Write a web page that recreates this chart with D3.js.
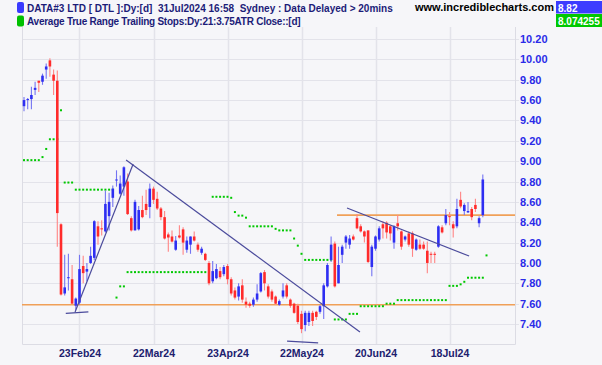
<!DOCTYPE html>
<html>
<head>
<meta charset="utf-8">
<script src="https://cdn.jsdelivr.net/npm/d3@7"></script>
<style>
  body { margin: 0; background: #f6f6f9; }
  svg { display: block; font-family: "Liberation Sans", Arial, sans-serif; }
</style>
</head>
<body>
<svg id="chart" width="602" height="365"></svg>
<script>
// --- daily bars, 2 Feb 2024 .. 31 Jul 2024 (one entry per trading day) ---
const opens = [
  9.54, 9.60, 9.61, 9.70, 9.79, 9.78, 9.90, 9.99, 9.85, 9.79,
  8.38, 7.70, 7.85, 7.84, 7.58, 7.61, 7.97, 7.915, 8.00, 8.05,
  8.36, 8.34, 8.31, 8.46, 8.64, 8.81, 8.68, 8.75, 8.80, 8.44,
  8.32, 8.33, 8.52, 8.58, 8.55, 8.73, 8.63, 8.535, 8.45, 8.28,
  8.26, 8.13, 8.27, 8.33, 8.13, 8.18, 8.26, 8.18, 8.10, 8.09,
  8.00, 7.82, 7.85, 7.92, 7.89, 7.97, 7.84, 7.73, 7.67, 7.78,
  7.62, 7.60, 7.59, 7.64, 7.72, 7.91, 7.77, 7.72, 7.67, 7.59,
  7.67, 7.78, 7.64, 7.60, 7.58, 7.50, 7.39, 7.42, 7.51, 7.52,
  7.52, 7.575, 7.77, 8.03, 8.19, 7.80, 8.08, 8.20, 8.18, 8.26,
  8.44, 8.36, 8.31, 8.32, 7.96, 8.14, 8.23, 8.38, 8.395, 8.36,
  8.20, 8.39, 8.31, 8.23, 8.29, 8.29, 8.13, 8.18, 8.18, 8.12,
  8.09, 8.09, 8.16, 8.35, 8.39, 8.46, 8.38, 8.36, 8.62, 8.51,
  8.497, 8.53, 8.57, 8.39, 8.47
];
const highs = [
  9.63, 9.62, 9.73, 9.78, 9.79, 9.86, 9.96, 10.01, 9.90, 9.89,
  8.39, 8.08, 8.09, 7.98, 7.66, 8.08, 8.07, 8.00, 8.16, 8.42,
  8.41, 8.42, 8.71, 8.69, 8.76, 8.91, 8.86, 8.95, 8.88, 8.46,
  8.62, 8.56, 8.66, 8.72, 8.78, 8.75, 8.70, 8.55, 8.51, 8.30,
  8.32, 8.265, 8.37, 8.35, 8.26, 8.26, 8.31, 8.20, 8.16, 8.10,
  8.02, 8.02, 7.99, 7.96, 7.98, 7.99, 7.86, 7.76, 7.80, 7.84,
  7.66, 7.62, 7.66, 7.79, 7.91, 7.93, 7.79, 7.74, 7.68, 7.64,
  7.80, 7.80, 7.65, 7.61, 7.60, 7.53, 7.53, 7.53, 7.53, 7.53,
  7.59, 7.80, 8.00, 8.26, 8.21, 8.16, 8.18, 8.275, 8.275, 8.28,
  8.48, 8.38, 8.32, 8.32, 8.18, 8.27, 8.36, 8.41, 8.41, 8.37,
  8.37, 8.47, 8.32, 8.27, 8.31, 8.31, 8.24, 8.23, 8.21, 8.21,
  8.11, 8.11, 8.37, 8.37, 8.53, 8.50, 8.41, 8.63, 8.70, 8.586,
  8.60, 8.55, 8.63, 8.46, 8.87
];
const lows = [
  9.49, 9.51, 9.51, 9.65, 9.68, 9.75, 9.81, 9.83, 9.65, 8.16,
  7.68, 7.68, 7.73, 7.60, 7.54, 7.59, 7.80, 7.82, 7.99, 8.03,
  8.18, 8.27, 8.30, 8.32, 8.55, 8.75, 8.67, 8.66, 8.47, 8.31,
  8.32, 8.32, 8.44, 8.47, 8.44, 8.58, 8.52, 8.42, 8.23, 8.11,
  8.20, 8.12, 8.24, 8.08, 8.10, 8.09, 8.21, 8.11, 8.08, 8.02,
  7.78, 7.80, 7.84, 7.84, 7.87, 7.79, 7.68, 7.64, 7.63, 7.61,
  7.56, 7.56, 7.57, 7.62, 7.71, 7.73, 7.65, 7.62, 7.59, 7.58,
  7.65, 7.65, 7.56, 7.50, 7.40, 7.31, 7.33, 7.38, 7.38, 7.44,
  7.50, 7.45, 7.76, 8.01, 7.76, 7.80, 8.00, 8.14, 8.14, 8.22,
  8.33, 8.30, 8.20, 8.00, 7.87, 8.12, 8.21, 8.24, 8.24, 8.22,
  8.14, 8.32, 8.13, 8.21, 8.16, 8.06, 8.12, 8.13, 8.13, 7.90,
  8.00, 8.00, 8.15, 8.29, 8.37, 8.37, 8.25, 8.34, 8.537, 8.47,
  8.49, 8.42, 8.50, 8.35, 8.45
];
const closes = [
  9.60, 9.61, 9.65, 9.72, 9.77, 9.84, 9.93, 9.93, 9.79, 8.49,
  7.69, 7.76, 7.86, 7.60, 7.65, 7.94, 7.90, 7.94, 8.07, 8.41,
  8.26, 8.33, 8.58, 8.60, 8.73, 8.82, 8.78, 8.94, 8.48, 8.32,
  8.60, 8.52, 8.45, 8.52, 8.73, 8.62, 8.535, 8.45, 8.24, 8.25,
  8.21, 8.22, 8.25, 8.20, 8.22, 8.26, 8.22, 8.13, 8.14, 8.03,
  7.80, 7.92, 7.94, 7.86, 7.96, 7.84, 7.70, 7.66, 7.77, 7.64,
  7.59, 7.58, 7.64, 7.70, 7.90, 7.80, 7.67, 7.64, 7.60, 7.625,
  7.73, 7.67, 7.58, 7.51, 7.42, 7.35, 7.51, 7.51, 7.43, 7.47,
  7.575, 7.78, 7.98, 8.18, 7.77, 7.98, 8.16, 8.26, 8.24, 8.23,
  8.34, 8.31, 8.26, 8.01, 8.16, 8.26, 8.34, 8.34, 8.30, 8.29,
  8.36, 8.36, 8.16, 8.26, 8.18, 8.14, 8.23, 8.14, 8.14, 8.00,
  8.08, 8.08, 8.36, 8.30, 8.47, 8.45, 8.34, 8.53, 8.555, 8.57,
  8.51, 8.45, 8.53, 8.44, 8.82
];

// ATR trailing stop, one value per bar plus the projected next bar
const stops = [
  9.01, 9.01, 9.01, 9.01, 9.01, 9.04, 9.12, 9.215, 9.215, 9.215,
  9.50, 8.79, 8.79, 8.79, 8.72, 8.72, 8.72, 8.72, 8.72, 8.72,
  8.72, 8.72, 8.72, 8.72, 8.72, 7.66, 7.77, 7.77, 7.91, 7.91,
  7.91, 7.91, 7.91, 7.91, 7.91, 7.91, 7.91, 7.91, 7.91, 7.91,
  7.91, 7.91, 7.91, 7.91, 7.91, 7.91, 7.91, 7.91, 7.91, 7.91,
  7.91, 8.65, 8.65, 8.65, 8.65, 8.65, 8.64, 8.50, 8.465, 8.465,
  8.445, 8.36, 8.36, 8.36, 8.36, 8.36, 8.36, 8.36, 8.335, 8.32,
  8.32, 8.32, 8.32, 8.24, 8.17, 8.09, 8.03, 8.03, 8.03, 8.03,
  8.03, 8.03, 8.03, 8.03, 7.445, 7.445, 7.445, 7.445, 7.50, 7.50,
  7.50, 7.575, 7.575, 7.575, 7.575, 7.575, 7.575, 7.575, 7.60, 7.60,
  7.60, 7.635, 7.635, 7.635, 7.635, 7.635, 7.635, 7.635, 7.635, 7.635,
  7.635, 7.635, 7.635, 7.635, 7.635, 7.775, 7.775, 7.775, 7.79, 7.815,
  7.855, 7.855, 7.855, 7.855, 7.855, 8.074255
];

// date axis: label text and the bar it sits on
const dateLabels = ["23Feb24", "22Mar24", "23Apr24", "22May24", "20Jun24", "18Jul24"];
const dateBars = [15, 35, 55, 75, 95, 115];

// price axis ticks
const priceTicks = [7.40, 7.60, 7.80, 8.00, 8.20, 8.40, 8.60, 8.80, 9.00, 9.20, 9.40, 9.60, 9.80, 10.00, 10.20];

// drawn annotations: [bar, price] end points
const trendLines = [
  [[13.8, 7.518], [29.5, 8.972]],
  [[27.6, 9.011], [90.8, 7.322]],
  [[87.3, 8.540], [120.3, 8.068]],
  [[11.3, 7.505], [17.4, 7.520]],
  [[71.1, 7.233], [79.5, 7.214]]
];
const levelLines = [
  { price: 7.59, from: -0.54 },
  { price: 8.47, from: 84.6 }
];

const title1 = "DATA#3 LTD [ DTL ]:Dy:[d]  31Jul2024 16:58  Sydney : Data Delayed > 20mins";
const title2 = "Average True Range Trailing Stops:Dy:21:3.75ATR Close::[d]";

// --- layout ---
const plot = { left: 22, right: 515, top: 27, bottom: 344 };
const upColor = "#2e2ef2", upWick = "#7474f2";
const downColor = "#ff2b2b", downWick = "#ff8585";

const svg = d3.select("#chart");

const x = d3.scaleLinear().domain([-0.54, 132.7]).range([plot.left, plot.right]);
const y = d3.scaleLinear().domain([7.2039, 10.3179]).range([plot.bottom, plot.top]);

const bars = opens.map((o, i) => ({ i, o, h: highs[i], l: lows[i], c: closes[i] }));

svg.append("defs").append("clipPath").attr("id", "clip")
  .append("rect")
  .attr("x", plot.left).attr("y", plot.top)
  .attr("width", plot.right - plot.left).attr("height", plot.bottom - plot.top);

// grid
const grid = svg.append("g").attr("class", "grid");
grid.selectAll(".hline").data(priceTicks).enter().append("line")
  .attr("x1", plot.left).attr("x2", plot.right + 4)
  .attr("y1", d => Math.round(y(d)) + 0.5).attr("y2", d => Math.round(y(d)) + 0.5)
  .attr("stroke", "#e3e3ea");
grid.selectAll(".vline").data(dateBars).enter().append("line")
  .attr("x1", d => Math.round(x(d)) + 0.5).attr("x2", d => Math.round(x(d)) + 0.5)
  .attr("y1", plot.top).attr("y2", plot.bottom)
  .attr("stroke", "#e3e3ea").attr("stroke-width", 1.5);

// frame
svg.append("path")
  .attr("d", `M${plot.left + 0.5},${plot.top}V${plot.bottom + 0.5}H${plot.right + 0.5}V${plot.top}`)
  .attr("fill", "none").attr("stroke", "#dcdce4");

// y axis labels
const yAxis = d3.axisRight(y).tickValues(priceTicks).tickFormat(d3.format(".2f"))
  .tickSize(0).tickPadding(5);
svg.append("g")
  .attr("transform", `translate(${plot.right},0)`)
  .call(yAxis)
  .call(g => g.select(".domain").remove())
  .selectAll("text")
  .attr("fill", "#2b2be8")
  .attr("font-size", 11).attr("font-weight", "bold")
  .attr("font-family", "'Liberation Sans', Arial, sans-serif");

// x axis labels
const xAxis = d3.axisBottom(x).tickValues(dateBars)
  .tickFormat((d, k) => dateLabels[k]).tickSize(0).tickPadding(6);
svg.append("g")
  .attr("transform", `translate(0,${plot.bottom})`)
  .call(xAxis)
  .call(g => g.select(".domain").remove())
  .selectAll("text")
  .attr("fill", "#20206e")
  .attr("font-size", 10.5).attr("font-weight", "bold")
  .attr("font-family", "'Liberation Sans', Arial, sans-serif");

const chart = svg.append("g").attr("clip-path", "url(#clip)");

// level lines
chart.selectAll(".level").data(levelLines).enter().append("line")
  .attr("x1", d => x(d.from)).attr("x2", plot.right)
  .attr("y1", d => y(d.price)).attr("y2", d => y(d.price))
  .attr("stroke", "#f0a058").attr("stroke-width", 1.6);

// trailing stop dots
chart.selectAll(".stop").data(stops).enter().append("rect")
  .attr("x", (d, i) => x(i) - 1).attr("y", d => y(d) - 1)
  .attr("width", 2).attr("height", 2)
  .attr("fill", "#00c800");

// candles
const candle = chart.selectAll(".candle").data(bars).enter().append("g");
candle.append("line")
  .attr("x1", d => x(d.i)).attr("x2", d => x(d.i))
  .attr("y1", d => y(d.h)).attr("y2", d => y(d.l))
  .attr("stroke", d => d.c >= d.o ? upWick : downWick)
  .attr("stroke-width", 1.1);
candle.append("rect")
  .attr("x", d => x(d.i) - 1.3)
  .attr("y", d => y(Math.max(d.o, d.c)))
  .attr("width", 2.6)
  .attr("height", d => Math.max(1, Math.abs(y(d.o) - y(d.c))))
  .attr("fill", d => d.c >= d.o ? upColor : downColor);

// trend lines
chart.selectAll(".trend").data(trendLines).enter().append("line")
  .attr("x1", d => x(d[0][0])).attr("y1", d => y(d[0][1]))
  .attr("x2", d => x(d[1][0])).attr("y2", d => y(d[1][1]))
  .attr("stroke", "#4b4b9c").attr("stroke-width", 1.2);

// header
const head = svg.append("g");
head.append("rect").attr("x", 17).attr("y", 2).attr("width", 7).attr("height", 11)
  .attr("rx", 2).attr("fill", "#3a3aff");
head.append("rect").attr("x", 17).attr("y", 15.5).attr("width", 7).attr("height", 11)
  .attr("rx", 2).attr("fill", "#00c000");
head.append("text").attr("x", 27).attr("y", 11.5)
  .style("white-space", "pre")
  .attr("font-size", 10).attr("font-weight", "bold")
  .attr("fill", "#1c1c78").text(title1);
head.append("text").attr("x", 27).attr("y", 25)
  .style("white-space", "pre")
  .attr("font-size", 10).attr("font-weight", "bold").attr("letter-spacing", -0.25)
  .attr("fill", "#1c1c78").text(title2);
head.append("text").attr("x", 415).attr("y", 10.5)
  .attr("font-size", 11).attr("font-weight", "bold")
  .attr("fill", "#000").text("www.incrediblecharts.com");

// last value boxes
head.append("rect").attr("x", 556).attr("y", 1).attr("width", 46).attr("height", 12.5)
  .attr("fill", "#3c3cff");
head.append("text").attr("x", 558).attr("y", 11.5)
  .attr("font-size", 10).attr("font-weight", "bold").attr("fill", "#fff")
  .text(d3.format(".2f")(closes[closes.length - 1]));
head.append("rect").attr("x", 556).attr("y", 14).attr("width", 46).attr("height", 13)
  .attr("fill", "#00c800");
head.append("text").attr("x", 558).attr("y", 24.5)
  .attr("font-size", 10).attr("font-weight", "bold").attr("fill", "#fff")
  .text(String(stops[stops.length - 1]));
</script>
</body>
</html>
